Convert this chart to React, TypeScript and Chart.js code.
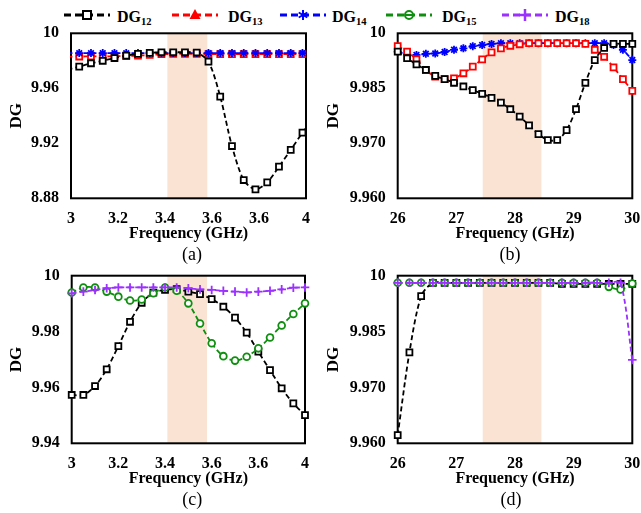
import React, { useEffect, useRef } from 'react';
import { Chart, registerables } from 'chart.js';
Chart.register(...registerables);

// ---------- DATA ----------
// Panel (a): 3-4 GHz (first and last points lie just outside the frame)
const freqA = [2.985, 3.035, 3.085, 3.135, 3.185, 3.235, 3.285, 3.335, 3.385, 3.435, 3.485, 3.535, 3.585, 3.635, 3.685, 3.735, 3.785, 3.835, 3.885, 3.935, 3.985, 4.035];
const dg12A = [9.9737, 9.9758, 9.9782, 9.98, 9.982, 9.9838, 9.985, 9.9858, 9.9862, 9.9862, 9.9862, 9.986, 9.9794, 9.9539, 9.918, 9.8933, 9.8865, 9.8916, 9.903, 9.9152, 9.9278, 9.9404];
const dg13A = [9.983, 9.9831, 9.9832, 9.9832, 9.9833, 9.9834, 9.9837, 9.9843, 9.9848, 9.985, 9.985, 9.985, 9.9849, 9.9848, 9.9848, 9.9848, 9.9848, 9.9848, 9.9848, 9.9848, 9.9848, 9.9848];
const dg14A = [9.9856, 9.9856, 9.9856, 9.9856, 9.9856, 9.9856, 9.9856, 9.9856, 9.9856, 9.9856, 9.9856, 9.9856, 9.9856, 9.9856, 9.9856, 9.9856, 9.9856, 9.9856, 9.9856, 9.9856, 9.9856, 9.9856];

// Panel (b): 26-30 GHz
const freqB = [26.0, 26.16, 26.32, 26.48, 26.64, 26.8, 26.96, 27.12, 27.28, 27.44, 27.6, 27.76, 27.92, 28.08, 28.24, 28.4, 28.56, 28.72, 28.88, 29.04, 29.2, 29.36, 29.52, 29.68, 29.84, 30.0];
const dg12B = [9.995, 9.9932, 9.9915, 9.99, 9.9884, 9.9875, 9.9865, 9.9855, 9.9845, 9.9835, 9.9824, 9.9811, 9.9793, 9.9773, 9.9749, 9.9725, 9.9709, 9.9709, 9.9736, 9.9793, 9.9865, 9.9927, 9.996, 9.9971, 9.9971, 9.9971];
const dg13B = [9.9965, 9.995, 9.9929, 9.99, 9.9882, 9.9875, 9.9877, 9.9891, 9.9909, 9.9929, 9.9948, 9.9959, 9.9966, 9.997, 9.9973, 9.9973, 9.9973, 9.9973, 9.9973, 9.9973, 9.9971, 9.9955, 9.9936, 9.9907, 9.9875, 9.9843];
const dg14B = [9.995, 9.9943, 9.9941, 9.9944, 9.9945, 9.9949, 9.9955, 9.9959, 9.9965, 9.9968, 9.9971, 9.9973, 9.9973, 9.9973, 9.9973, 9.9973, 9.9973, 9.9973, 9.9973, 9.9973, 9.9973, 9.9973, 9.9973, 9.9968, 9.9955, 9.9927];

// Panel (c): 3-4 GHz
const freqC = [3.0, 3.05, 3.1, 3.15, 3.2, 3.25, 3.3, 3.35, 3.4, 3.45, 3.5, 3.55, 3.6, 3.65, 3.7, 3.75, 3.8, 3.85, 3.9, 3.95, 4.0];
const dg12C = [9.9573, 9.9573, 9.9605, 9.9665, 9.9748, 9.9835, 9.9903, 9.9939, 9.9949, 9.9952, 9.9943, 9.9934, 9.9916, 9.9889, 9.985, 9.9796, 9.9728, 9.9662, 9.9597, 9.9543, 9.9501];
const dg15C = [9.994, 9.9958, 9.9958, 9.9943, 9.9925, 9.9911, 9.9915, 9.9937, 9.9958, 9.9946, 9.9901, 9.9829, 9.9758, 9.9712, 9.9696, 9.971, 9.974, 9.9779, 9.9822, 9.9863, 9.9901];
const dg18C = [9.9937, 9.9943, 9.9949, 9.9955, 9.9958, 9.9958, 9.9958, 9.9958, 9.9958, 9.9958, 9.9955, 9.9951, 9.9949, 9.9946, 9.9943, 9.994, 9.9943, 9.9946, 9.9951, 9.9957, 9.9958];

// Panel (d): 26-30 GHz
const freqD = [26.0, 26.2, 26.4, 26.6, 26.8, 27.0, 27.2, 27.4, 27.6, 27.8, 28.0, 28.2, 28.4, 28.6, 28.8, 29.0, 29.2, 29.4, 29.6, 29.8, 30.0];
const dg12D = [9.9572, 9.9794, 9.9945, 9.9981, 9.9981, 9.9981, 9.9981, 9.9981, 9.9981, 9.9981, 9.9981, 9.9981, 9.9981, 9.9981, 9.9978, 9.9978, 9.9978, 9.9978, 9.9978, 9.9978, 9.9978];
const dg15D = [9.9981, 9.9981, 9.9981, 9.9981, 9.9981, 9.9981, 9.9981, 9.9981, 9.9981, 9.9981, 9.9981, 9.9981, 9.9981, 9.9981, 9.9981, 9.9981, 9.9981, 9.9981, 9.997, 9.9963, 9.9979];
const dg18D = [9.9981, 9.9981, 9.9981, 9.9981, 9.9981, 9.9981, 9.9981, 9.9981, 9.9981, 9.9981, 9.9981, 9.9981, 9.9981, 9.9981, 9.9981, 9.9981, 9.9981, 9.9981, 9.9981, 9.9981, 9.9774];

// Ticks
const xTicksLow = [3, 3.2, 3.4, 3.6, 3.8, 4];
const xTickLabelsLow = ['3', '3.2', '3.4', '3.6', '3.6', '4'];
const xTicksHigh = [26, 27, 28, 29, 30];
const xTickLabelsHigh = ['26', '27', '28', '29', '30'];
const yTicksA = [9.88, 9.92, 9.96, 10];
const yTickLabelsA = ['8.88', '9.92', '9.96', '10'];
const yTicksBD = [9.955, 9.97, 9.985, 10];
const yTickLabelsBD = ['9.960', '9.970', '9.985', '10'];
const yTicksC = [9.94, 9.96, 9.98, 10];
const yTickLabelsC = ['9.94', '9.96', '9.98', '10'];

// Highlighted bands
const bandLow = [3.41, 3.58];
const bandHigh = [27.45, 28.45];

// ---------- STYLES ----------
const FONT = '"Liberation Serif", "Times New Roman", serif';
const STY: Record<string, any> = {
  DG12: { color: '#000000', pointStyle: 'rect', r: 4.2, fill: '#ffffff' },
  DG13: { color: '#ff0000', pointStyle: 'rect', r: 4.2, fill: '#ffffff' },
  DG14: { color: '#0000ff', pointStyle: 'star', r: 4, fill: '#0000ff' },
  DG15: { color: '#0f8f0f', pointStyle: 'circle', r: 3.4, fill: '#ffffff' },
  DG18: { color: '#9b30ff', pointStyle: 'cross', r: 4.3, fill: '#9b30ff' },
};

const decoPlugin = {
  id: 'panelDeco',
  beforeDatasetsDraw(chart: any, _a: any, opts: any) {
    const { ctx, chartArea: ca, scales } = chart;
    const x0 = scales.x.getPixelForValue(opts.band[0]);
    const x1 = scales.x.getPixelForValue(opts.band[1]);
    ctx.save();
    ctx.fillStyle = '#fbe3d4';
    ctx.fillRect(x0, ca.top, x1 - x0, ca.bottom - ca.top);
    ctx.strokeStyle = '#000';
    ctx.lineWidth = 2;
    ctx.strokeRect(ca.left, ca.top, ca.right - ca.left, ca.bottom - ca.top);
    ctx.restore();
  },
  afterDraw(chart: any, _a: any, opts: any) {
    const { ctx, chartArea: ca } = chart;
    ctx.save();
    ctx.fillStyle = '#000';
    ctx.font = `18px ${FONT}`;
    ctx.textAlign = 'center';
    ctx.textBaseline = 'middle';
    ctx.fillText(opts.caption, (ca.left + ca.right) / 2 + opts.capDx, ca.bottom + 57);
    ctx.restore();
  },
};

type Series = { name: string; xs: number[]; ys: number[] };
type PanelCfg = {
  x: number; y: number; w: number; h: number;
  area: { l: number; r: number; t: number; b: number };
  xmin: number; xmax: number; xTicks: number[]; xLabels: string[];
  ymin: number; ymax: number; yTicks: number[]; yLabels: string[];
  band: number[]; caption: string; capDx: number; titlePad: number;
  clip: any; hideEnds: boolean; series: Series[];
};

const panels: PanelCfg[] = [
  {
    x: 0, y: 20, w: 320, h: 250, area: { l: 71, r: 306, t: 33.3, b: 198.3 },
    xmin: 3, xmax: 4, xTicks: xTicksLow, xLabels: xTickLabelsLow,
    ymin: 9.88, ymax: 10, yTicks: yTicksA, yLabels: yTickLabelsA,
    band: bandLow, caption: '(a)', capDx: 3.5, titlePad: 6.3, clip: 1, hideEnds: true,
    series: [
      { name: 'DG12', xs: freqA, ys: dg12A },
      { name: 'DG14', xs: freqA, ys: dg14A },
      { name: 'DG13', xs: freqA, ys: dg13A },
    ],
  },
  {
    x: 320, y: 20, w: 321, h: 250, area: { l: 397.7, r: 632.3, t: 33.3, b: 198.3 },
    xmin: 26, xmax: 30, xTicks: xTicksHigh, xLabels: xTickLabelsHigh,
    ymin: 9.955, ymax: 10, yTicks: yTicksBD, yLabels: yTickLabelsBD,
    band: bandHigh, caption: '(b)', capDx: -5, titlePad: 3.8, clip: false, hideEnds: false,
    series: [
      { name: 'DG12', xs: freqB, ys: dg12B },
      { name: 'DG13', xs: freqB, ys: dg13B },
      { name: 'DG14', xs: freqB, ys: dg14B },
    ],
  },
  {
    x: 0, y: 262, w: 320, h: 251, area: { l: 71.7, r: 305, t: 275.7, b: 443.3 },
    xmin: 3, xmax: 4, xTicks: xTicksLow, xLabels: xTickLabelsLow,
    ymin: 9.94, ymax: 10, yTicks: yTicksC, yLabels: yTickLabelsC,
    band: bandLow, caption: '(c)', capDx: 4, titlePad: 6.3, clip: false, hideEnds: false,
    series: [
      { name: 'DG18', xs: freqC, ys: dg18C },
      { name: 'DG15', xs: freqC, ys: dg15C },
      { name: 'DG12', xs: freqC, ys: dg12C },
    ],
  },
  {
    x: 320, y: 262, w: 321, h: 251, area: { l: 397.7, r: 632.3, t: 275.7, b: 443.3 },
    xmin: 26, xmax: 30, xTicks: xTicksHigh, xLabels: xTickLabelsHigh,
    ymin: 9.955, ymax: 10, yTicks: yTicksBD, yLabels: yTickLabelsBD,
    band: bandHigh, caption: '(d)', capDx: -4, titlePad: 3.8, clip: false, hideEnds: false,
    series: [
      { name: 'DG18', xs: freqD, ys: dg18D },
      { name: 'DG15', xs: freqD, ys: dg15D },
      { name: 'DG12', xs: freqD, ys: dg12D },
    ],
  },
];

const X_AXIS_H = 45;

function Panel({ cfg }: { cfg: PanelCfg }) {
  const ref = useRef<HTMLCanvasElement | null>(null);
  useEffect(() => {
    const L = cfg.area.l - cfg.x;
    const R = cfg.area.r - cfg.x;
    const T = cfg.area.t - cfg.y;
    const B = cfg.area.b - cfg.y;
    const tickFont = { family: FONT, size: 16, weight: 'bold' as const };
    const chart = new Chart(ref.current as HTMLCanvasElement, {
      type: 'line',
      data: {
        datasets: cfg.series.map((s) => {
          const st = STY[s.name];
          const n = s.xs.length;
          return {
            label: s.name,
            data: s.xs.map((x, i) => ({ x, y: s.ys[i] })),
            borderColor: st.color,
            backgroundColor: st.fill,
            borderWidth: 1.8,
            borderDash: [5, 3],
            pointStyle: st.pointStyle,
            pointRadius: s.xs.map((_, i) => (cfg.hideEnds && (i === 0 || i === n - 1) ? 0 : st.r)),
            pointBorderWidth: 1.8,
            pointBorderColor: st.color,
            pointBackgroundColor: st.fill,
            tension: 0.3,
            fill: false,
            clip: cfg.clip,
          };
        }),
      },
      options: {
        responsive: false,
        animation: false,
        devicePixelRatio: 1,
        layout: { padding: { left: 0, top: T, right: cfg.w - R, bottom: cfg.h - B - X_AXIS_H } },
        plugins: {
          legend: { display: false },
          tooltip: { enabled: false },
          // @ts-ignore
          panelDeco: { band: cfg.band, caption: cfg.caption, capDx: cfg.capDx },
        },
        scales: {
          x: {
            type: 'linear',
            min: cfg.xmin,
            max: cfg.xmax,
            grid: { display: false, drawTicks: false },
            border: { display: false },
            afterBuildTicks: (s: any) => { s.ticks = cfg.xTicks.map((v) => ({ value: v })); },
            afterFit: (s: any) => { s.height = X_AXIS_H; s.paddingLeft = 0; s.paddingRight = 0; },
            ticks: {
              callback: (_v: any, i: number) => cfg.xLabels[i],
              font: tickFont, color: '#000', padding: 11, autoSkip: false, maxRotation: 0,
            },
            title: { display: true, text: 'Frequency (GHz)', font: { family: FONT, size: 16, weight: 'bold' }, color: '#000', padding: { top: 0, bottom: 0 } },
          },
          y: {
            type: 'linear',
            min: cfg.ymin,
            max: cfg.ymax,
            grid: { display: false, drawTicks: false },
            border: { display: false },
            afterBuildTicks: (s: any) => { s.ticks = cfg.yTicks.map((v) => ({ value: v })); },
            afterFit: (s: any) => { s.width = L; s.paddingTop = 0; s.paddingBottom = 0; },
            ticks: {
              callback: (_v: any, i: number) => cfg.yLabels[i],
              font: tickFont, color: '#000', padding: 12, autoSkip: false,
            },
            title: { display: true, text: 'DG', font: { family: FONT, size: 17, weight: 'bold' }, color: '#000', padding: { top: cfg.titlePad, bottom: 0 } },
          },
        },
      },
      plugins: [decoPlugin],
    } as any);
    return () => chart.destroy();
  }, [cfg]);
  return (
    <canvas
      ref={ref}
      width={cfg.w}
      height={cfg.h}
      style={{ position: 'absolute', left: cfg.x, top: cfg.y, width: cfg.w, height: cfg.h }}
    />
  );
}

const legendItems = [
  { name: 'DG12', sub: '12', x0: 64, tx: 117, marker: 'square' },
  { name: 'DG13', sub: '13', x0: 172, tx: 228, marker: 'triangle' },
  { name: 'DG14', sub: '14', x0: 280, tx: 332, marker: 'asterisk' },
  { name: 'DG15', sub: '15', x0: 386, tx: 442, marker: 'theta' },
  { name: 'DG18', sub: '18', x0: 502, tx: 555, marker: 'plus' },
];

function LegendMarker({ kind, cx, cy, color }: { kind: string; cx: number; cy: number; color: string }) {
  if (kind === 'square') return <rect x={cx - 4} y={cy - 4} width={8} height={8} fill="#fff" stroke={color} strokeWidth={2} />;
  if (kind === 'triangle') return <polygon points={`${cx},${cy - 6} ${cx + 5.5},${cy + 4} ${cx - 5.5},${cy + 4}`} fill={color} />;
  if (kind === 'asterisk')
    return (
      <g stroke={color} strokeWidth={2}>
        <line x1={cx} y1={cy - 5} x2={cx} y2={cy + 5} />
        <line x1={cx - 4.3} y1={cy - 2.5} x2={cx + 4.3} y2={cy + 2.5} />
        <line x1={cx - 4.3} y1={cy + 2.5} x2={cx + 4.3} y2={cy - 2.5} />
      </g>
    );
  if (kind === 'theta')
    return (
      <g stroke={color} strokeWidth={2}>
        <circle cx={cx} cy={cy} r={4} fill="#fff" />
        <line x1={cx - 4} y1={cy} x2={cx + 4} y2={cy} />
      </g>
    );
  return (
    <g stroke={color} strokeWidth={2.5}>
      <line x1={cx - 6} y1={cy} x2={cx + 6} y2={cy} />
      <line x1={cx} y1={cy - 6} x2={cx} y2={cy + 6} />
    </g>
  );
}

function Legend() {
  return (
    <svg width={641} height={30} style={{ position: 'absolute', left: 0, top: 0 }}>
      {legendItems.map((it) => {
        const color = STY[it.name].color;
        return (
          <g key={it.name}>
            <line x1={it.x0} y1={15} x2={it.x0 + 46} y2={15} stroke={color} strokeWidth={3} strokeDasharray="7 4" />
            <LegendMarker kind={it.marker} cx={it.x0 + 23} cy={15} color={color} />
            <text x={it.tx} y={21.7} fontFamily={FONT} fontWeight="bold" fontSize={16} fill="#000">
              DG<tspan fontSize={10.5} dy={3.5}>{it.sub}</tspan>
            </text>
          </g>
        );
      })}
    </svg>
  );
}

export default function App() {
  return (
    <div style={{ position: 'absolute', left: 0, top: 0, width: 641, height: 513, background: '#fff', overflow: 'hidden' }}>
      <Legend />
      {panels.map((p, i) => (
        <Panel key={i} cfg={p} />
      ))}
    </div>
  );
}
